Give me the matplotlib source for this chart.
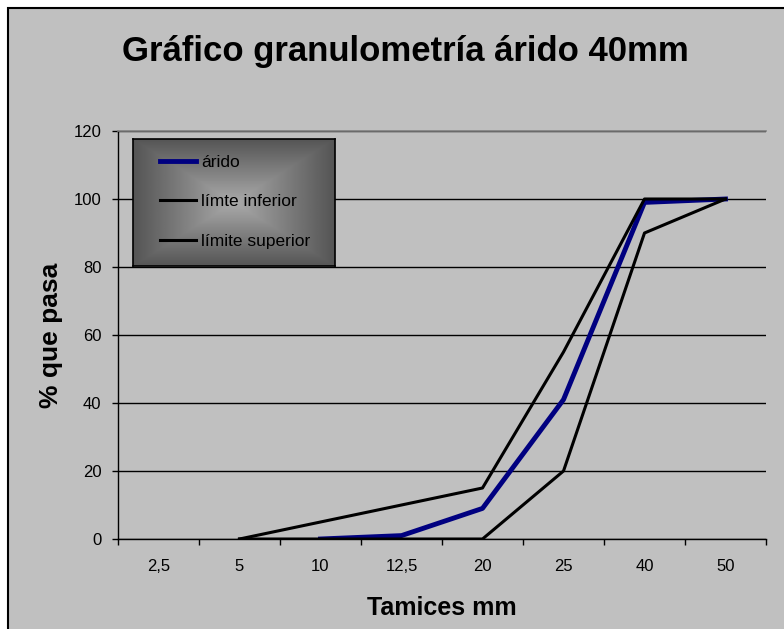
import numpy as np
import matplotlib.pyplot as plt
from matplotlib.patches import Rectangle

plt.rcParams['font.family'] = ['Liberation Sans', 'DejaVu Sans']

# granulometría: % que pasa por cada tamiz
tamices = ["2,5", "5", "10", "12,5", "20", "25", "40", "50"]
arido = [np.nan, np.nan, 0, 1, 9, 41, 99, 100]
lim_inf = [np.nan, 0, 0, 0, 0, 20, 90, 100]
lim_sup = [np.nan, 0, 5, 10, 15, 55, 100, 100]
y_ticks = [0, 20, 40, 60, 80, 100, 120]

W, H = 784, 629
fig = plt.figure(figsize=(W / 100, H / 100), dpi=100)
fig.patch.set_facecolor('white')

# fondo gris del área del gráfico
fig.patches.append(Rectangle((8 / W, -0.1), 1.2, 1 - 8 / H + 0.1, transform=fig.transFigure,
                             facecolor='#c0c0c0', edgecolor='black', linewidth=1.5, zorder=-5))

ax = fig.add_axes([118 / W, 1 - 539 / H, 648 / W, 408 / H])
ax.set_facecolor('#c0c0c0')
x = np.arange(len(tamices))

l1, = ax.plot(x, arido, color='#000080', linewidth=3.5, zorder=3)
l2, = ax.plot(x, lim_inf, color='black', linewidth=2.2, zorder=4)
l3, = ax.plot(x, lim_sup, color='black', linewidth=2.2, zorder=4)

ax.set_xlim(-0.5, len(tamices) - 0.5)
ax.set_ylim(0, 120)
ax.set_yticks(y_ticks)
ax.set_xticks(x)
ax.set_xticklabels(tamices)
ax.set_xticks(np.arange(len(tamices) + 1) - 0.5, minor=True)
ax.tick_params(axis='x', which='major', length=0, labelsize=12, pad=14.5)
ax.tick_params(axis='x', which='minor', length=4.5, width=1, direction='out')
ax.tick_params(axis='y', length=4, width=1, labelsize=12, pad=8)
ax.yaxis.grid(True, color='black', linewidth=1)
ax.set_axisbelow(True)
ax.spines['right'].set_visible(False)
ax.spines['top'].set_color('#808080')
ax.spines['top'].set_linewidth(1.2)
ax.spines['left'].set_linewidth(1)
ax.spines['bottom'].set_linewidth(1)

ax.set_ylabel('% que pasa', fontsize=19, fontweight='bold', va='center')
ax.yaxis.set_label_coords(-67 / 648, 0.5)
ax.set_xlabel('Tamices mm', fontsize=18, fontweight='bold', va='center')
ax.xaxis.set_label_coords(0.5, -69 / 408)

fig.text(405 / W, 1 - 52 / H, 'Gráfico granulometría árido 40mm', fontsize=25,
         fontweight='bold', ha='center', va='center')

# leyenda con degradado gris desde el centro
lax = fig.add_axes([133 / W, 1 - 266 / H, 202 / W, 127 / H])
gx, gy = np.meshgrid(np.linspace(-1, 1, 200), np.linspace(-1, 1, 130))
d = np.maximum(np.abs(gx), np.abs(gy))
lax.imshow(d, cmap='gray_r', vmin=-1.0, vmax=2.0, aspect='auto', extent=[0, 1, 0, 1])
lax.set_xticks([])
lax.set_yticks([])
for s in lax.spines.values():
    s.set_linewidth(1.2)
lax.legend([l1, l2, l3], ['árido', 'límte inferior', 'límite superior'],
           loc='center left', bbox_to_anchor=(18 / 202, 0.505), frameon=False, fontsize=12.5,
           borderpad=0, handlelength=2.1, handletextpad=0.3, labelspacing=1.42)

fig.savefig('out.png', dpi=100)
